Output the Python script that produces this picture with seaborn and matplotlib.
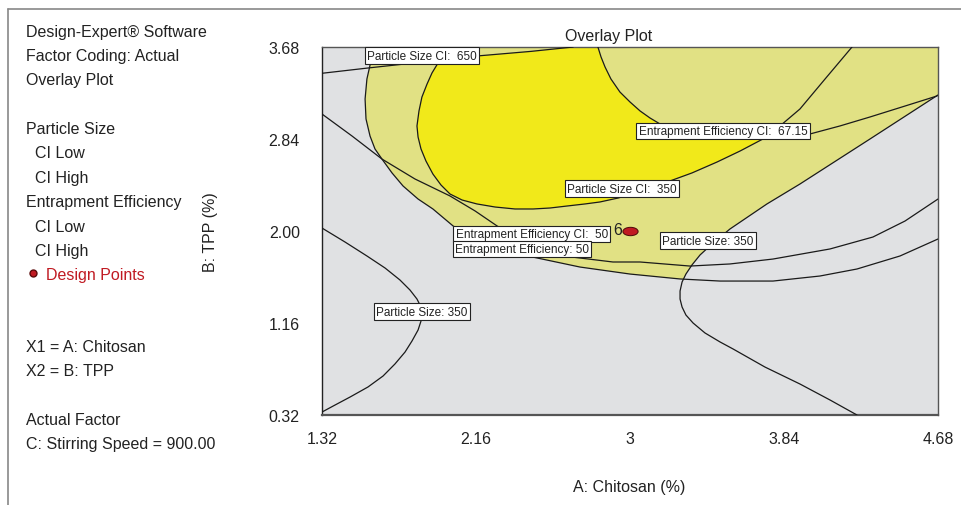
import numpy as np
import seaborn as sns
import matplotlib.pyplot as plt
from matplotlib.patches import Polygon
from matplotlib.lines import Line2D
from matplotlib.markers import MarkerStyle
from matplotlib.path import Path
from matplotlib.transforms import Affine2D

# ---- data (A: Chitosan %, B: TPP %) ----
x_ticks = [1.32, 2.16, 3.0, 3.84, 4.68]
x_tick_labels = ["1.32", "2.16", "3", "3.84", "4.68"]
y_ticks = [0.32, 1.16, 2.00, 2.84, 3.68]
y_tick_labels = ["0.32", "1.16", "2.00", "2.84", "3.68"]

# Particle Size CI: 650
ps650_x = [1.32, 1.58, 1.91, 2.18, 2.46, 2.69]
ps650_y = [3.44, 3.49, 3.55, 3.60, 3.64, 3.68]

# Entrapment Efficiency: 50 (mean)
ee50_x = [1.615, 1.598, 1.587, 1.565, 1.555, 1.560, 1.582, 1.609, 1.647, 1.702, 1.762, 1.844, 1.925,
          2.035, 2.182, 2.416, 2.727, 3.000, 3.273, 3.491, 3.780, 4.036, 4.238, 4.473, 4.680]
ee50_y = [3.680, 3.616, 3.552, 3.388, 3.205, 3.023, 2.867, 2.749, 2.657, 2.530, 2.411, 2.292, 2.201,
          2.046, 1.909, 1.781, 1.671, 1.607, 1.562, 1.543, 1.543, 1.589, 1.653, 1.772, 1.927]

# Entrapment Efficiency CI: 50
eeci50_x = [1.320, 1.484, 1.647, 1.827, 2.018, 2.155, 2.275, 2.455, 2.635, 2.907, 3.055,
            3.327, 3.545, 3.780, 4.091, 4.325, 4.500, 4.680]
eeci50_y = [3.068, 2.867, 2.657, 2.475, 2.320, 2.183, 2.046, 1.881, 1.772, 1.717, 1.717,
            1.680, 1.699, 1.744, 1.836, 1.945, 2.091, 2.292]

# Particle Size CI: 350
psci350_x = [2.002, 1.980, 1.953, 1.920, 1.893, 1.865, 1.849, 1.838, 1.844, 1.860, 1.887,
             1.925, 1.969, 2.018, 2.084, 2.165, 2.264, 2.373, 2.471, 2.564, 2.656, 2.755,
             2.836, 2.935, 3.027, 3.120, 3.202, 3.338, 3.475, 3.600, 3.725, 3.818, 3.927,
             4.064, 4.211]
psci350_y = [3.680, 3.616, 3.534, 3.443, 3.342, 3.223, 3.096, 2.959, 2.858, 2.749, 2.639,
             2.520, 2.420, 2.338, 2.283, 2.247, 2.219, 2.201, 2.201, 2.210, 2.228, 2.247,
             2.265, 2.301, 2.347, 2.393, 2.447, 2.530, 2.630, 2.730, 2.840, 2.959, 3.114,
             3.388, 3.680]

# Entrapment Efficiency CI: 67.15
eeci67_x = [2.825, 2.842, 2.864, 2.896, 2.945, 3.000, 3.055, 3.109, 3.164, 3.273, 3.382,
            3.491, 3.600, 3.682, 3.764, 3.873, 3.982, 4.145, 4.309, 4.500, 4.675]
eeci67_y = [3.680, 3.589, 3.497, 3.388, 3.269, 3.178, 3.096, 3.032, 2.977, 2.922, 2.877,
            2.849, 2.840, 2.840, 2.849, 2.867, 2.886, 2.959, 3.041, 3.141, 3.233]

# Particle Size: 350, right branch
ps350r_x = [4.680, 4.309, 3.927, 3.747, 3.545, 3.447, 3.382, 3.338, 3.305, 3.284, 3.273,
            3.273, 3.284, 3.305, 3.344, 3.409, 3.491, 3.562, 3.736, 3.927, 4.091, 4.238]
ps350r_y = [3.242, 2.840, 2.429, 2.247, 2.018, 1.881, 1.781, 1.690, 1.607, 1.534, 1.452,
            1.379, 1.306, 1.233, 1.160, 1.069, 0.987, 0.923, 0.758, 0.603, 0.457, 0.320]

# Particle Size: 350, left branch
ps350l_x = [1.320, 1.445, 1.565, 1.664, 1.745, 1.800, 1.838, 1.860, 1.865, 1.860, 1.844,
            1.811, 1.773, 1.718, 1.653, 1.571, 1.473, 1.391, 1.320]
ps350l_y = [2.027, 1.900, 1.772, 1.662, 1.553, 1.461, 1.379, 1.306, 1.251, 1.178, 1.096,
            0.996, 0.895, 0.786, 0.676, 0.576, 0.484, 0.411, 0.347]

design_x = [3.0]
design_y = [2.0]
design_count = "6"

labels = ["Particle Size CI:  650", "Entrapment Efficiency CI:  67.15", "Particle Size CI:  350",
          "Entrapment Efficiency CI:  50", "Entrapment Efficiency: 50",
          "Particle Size: 350", "Particle Size: 350"]
label_x = [1.865, 3.507, 2.956, 2.465, 2.411, 3.425, 1.865]
label_y = [3.602, 2.913, 2.388, 1.973, 1.836, 1.913, 1.265]

side_text = [("Design-Expert® Software", 0), ("Factor Coding: Actual", 0), ("Overlay Plot", 0),
             ("", 0), ("Particle Size", 0), ("CI Low", 1), ("CI High", 1),
             ("Entrapment Efficiency", 0), ("CI Low", 1), ("CI High", 1)]
side_text2 = [("X1 = A: Chitosan", 348), ("X2 = B: TPP", 372),
              ("Actual Factor", 421), ("C: Stirring Speed = 900.00", 445)]

GRAY = "#E0E1E3"
LIGHT = "#E1E184"
BRIGHT = "#F1E91A"
RED = "#C01A22"
INK = "#222222"
FS = 11.5
W, H = 962, 506

sns.set_style("white")
plt.rcParams['font.family'] = ['Liberation Sans', 'DejaVu Sans']

fig = plt.figure(figsize=(W / 100, H / 100), dpi=100)
ax = fig.add_axes([322 / W, 1 - 416 / H, 616 / W, 368 / H])
ax.set_facecolor(GRAY)

# regions
ax.add_patch(Polygon(list(zip(ee50_x, ee50_y)) + [(4.68, 3.68)], closed=True,
                     fc=LIGHT, ec="none", zorder=1))
ax.add_patch(Polygon(list(zip(ps350r_x, ps350r_y)) + [(4.68, 0.32)], closed=True,
                     fc=GRAY, ec="none", zorder=1.5))
n_arc = next(i for i, v in enumerate(psci350_x) if v > 3.7) + 1
n_u = next(i for i, v in enumerate(eeci67_x) if v >= 3.6) + 1
bright_pts = list(zip(psci350_x[:n_arc], psci350_y[:n_arc])) + \
    list(zip(eeci67_x[:n_u], eeci67_y[:n_u]))[::-1]
bright = Polygon(bright_pts, closed=True, fc=BRIGHT, ec="none", zorder=2)
ax.add_patch(bright)
clip = Polygon(list(zip(ps650_x, ps650_y)) + [(4.68, 3.68), (4.68, 0.32), (1.32, 0.32)],
               closed=True, transform=ax.transData, fc="none", ec="none")
bright.set_clip_path(clip)

# contour lines
for cx, cy in [(ps650_x, ps650_y), (ee50_x, ee50_y), (eeci50_x, eeci50_y),
               (psci350_x, psci350_y), (eeci67_x, eeci67_y),
               (ps350r_x, ps350r_y), (ps350l_x, ps350l_y)]:
    sns.lineplot(x=cx, y=cy, sort=False, estimator=None, color="#1a1a1a",
                 lw=0.9, ax=ax, zorder=3)

for txt, lx, ly in zip(labels, label_x, label_y):
    ax.text(lx, ly, txt, fontsize=8.5, ha="center", va="center", zorder=5, color=INK,
            bbox=dict(boxstyle="square,pad=0.2", fc="white", ec=INK, lw=0.8))

# design point
ell = MarkerStyle(Path.unit_circle().transformed(Affine2D().scale(1.0, 0.55)))
sns.scatterplot(x=design_x, y=design_y, marker=ell, s=120, color=RED,
                edgecolor="#4a0808", linewidth=0.7, ax=ax, zorder=6)
ax.text(2.935, 2.018, design_count, fontsize=FS, ha="center", va="center",
        color=INK, zorder=6)

ax.set_xlim(1.32, 4.68)
ax.set_ylim(0.32, 3.68)
ax.set_xticks(x_ticks)
ax.set_xticklabels(x_tick_labels)
ax.set_yticks(y_ticks)
ax.set_yticklabels(y_tick_labels)
ax.tick_params(axis="y", length=13, width=1, color="#777777", pad=3, labelsize=FS,
               labelcolor=INK)
ax.tick_params(axis="x", length=9.5, width=1, color="#555555", pad=2, labelsize=FS,
               labelcolor=INK)
for side, sp in ax.spines.items():
    sp.set_color("#555555")
    sp.set_linewidth(1.0)
ax.spines["bottom"].set_linewidth(1.6)
ax.spines["left"].set_color(INK)

fig.text(609 / W, 1 - 36 / H, "Overlay Plot", fontsize=FS, ha="center", va="center", color=INK)
fig.text(629 / W, 1 - 488 / H, "A: Chitosan (%)", fontsize=FS, ha="center", va="center",
         color=INK)
fig.text(211 / W, 1 - 232 / H, "B: TPP (%)", fontsize=FS, ha="center", va="center",
         rotation=90, color=INK)

# side panel
for i, (txt, indent) in enumerate(side_text):
    if txt:
        fig.text((26 + 9 * indent) / W, 1 - (32 + 24.4 * i) / H, txt, fontsize=FS,
                 ha="left", va="center", color=INK)
fig.text(46 / W, 1 - 276 / H, "Design Points", fontsize=FS, ha="left", va="center", color=RED)
fig.add_artist(Line2D([33 / W], [1 - 274 / H], marker="o", ms=5, color=RED,
                      mec="#5a0a0a", transform=fig.transFigure))
for txt, py in side_text2:
    fig.text(26 / W, 1 - py / H, txt, fontsize=FS, ha="left", va="center", color=INK)

# outer frame
fig.add_artist(Line2D([8 / W, 8 / W], [0, 1 - 10 / H], color="#888888", lw=1.2,
                      transform=fig.transFigure))
fig.add_artist(Line2D([8 / W, 1], [1 - 10 / H, 1 - 10 / H], color="#888888", lw=1.2,
                      transform=fig.transFigure))

fig.savefig("out.png", dpi=100)
